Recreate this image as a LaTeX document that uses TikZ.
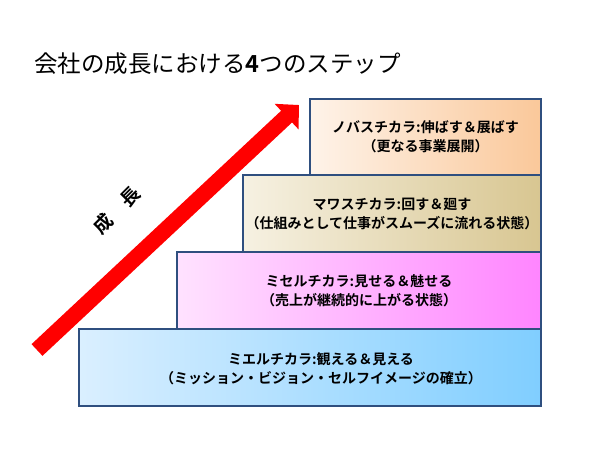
\documentclass[tikz,border=0pt]{standalone}
\usepackage{fontspec}
\setmainfont{Noto Sans CJK JP}[BoldFont={Noto Sans CJK JP Bold}]
\usetikzlibrary{arrows.meta}

\definecolor{bordure}{HTML}{2F4F7F}
\definecolor{rougefleche}{HTML}{FF0000}

\tikzset{
  stepbox/.style={draw=bordure, line width=1.3pt, rectangle, inner sep=0pt,
    minimum height=77pt, align=center, font=\bfseries\fontsize{14}{19}\selectfont},
  steptext/.style={align=center, inner sep=0pt, font=\bfseries\fontsize{14}{19}\selectfont}
}

\begin{document}
\begin{tikzpicture}[x=1pt,y=-1pt]
\useasboundingbox (0,0) rectangle (600,450);

% -------------------------------------------------
% Titre
% -------------------------------------------------
\node[anchor=west, inner sep=0pt, font=\fontsize{23.5}{28}\selectfont] (titre) at (34,64)
  {会社の成長における\textbf{4}つのステップ};

% -------------------------------------------------
% Marches (de bas en haut)
% -------------------------------------------------
\node[stepbox, minimum width=462pt, left color={rgb,255:red,218;green,239;blue,255}, right color={rgb,255:red,128;green,206;blue,255}]
  (stepone) at (310,367.5) {};
\node[steptext] (steponetext) at (321,368.5)
  {ミエルチカラ:観える＆見える\\（ミッション・ビジョン・セルフイメージの確立）};

\node[stepbox, minimum width=364pt, left color={rgb,255:red,255;green,226;blue,255}, right color={rgb,255:red,255;green,133;blue,255}]
  (steptwo) at (359,290.5)
  {ミセルチカラ:見せる＆魅せる\\（売上が継続的に上がる状態）};

\node[stepbox, minimum width=298pt, left color={rgb,255:red,246;green,241;blue,226}, right color={rgb,255:red,216;green,198;blue,145}]
  (stepthree) at (392,213.5)
  {マワスチカラ:回す＆廻す\\（仕組みとして仕事がスムーズに流れる状態）};

\node[stepbox, minimum width=231pt, minimum height=76pt, left color={rgb,255:red,254;green,243;blue,233}, right color={rgb,255:red,250;green,200;blue,154}]
  (stepfour) at (425.5,137)
  {ノバスチカラ:伸ばす＆展ばす\\（更なる事業展開）};

% -------------------------------------------------
% Fleche de croissance
% -------------------------------------------------
\coordinate (queue) at (37,350);
\coordinate (pointe) at (299,105);
\draw[rougefleche, line width=16pt, -{Triangle[length=17pt,width=34pt]}] (queue) -- (pointe);

\node[rotate=45, font=\bfseries\fontsize{19}{22}\selectfont] (croissance) at (117,210) {成　長};

\end{tikzpicture}
\end{document}
